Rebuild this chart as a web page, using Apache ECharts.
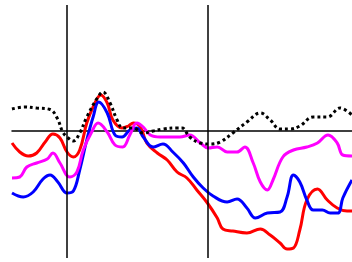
<!DOCTYPE html>
<html>
<head>
<meta charset="utf-8">
<script src="https://cdn.jsdelivr.net/npm/echarts@6/dist/echarts.min.js"></script>
<style>
  html, body { margin: 0; padding: 0; background: #fff; }
  #chart { width: 352px; height: 262px; }
</style>
</head>
<body>
<div id="chart"></div>
<script>
// [time (ms), amplitude]
const blackDotted = [[-78,2.2],[-60,2.4],[-43,2.3],[-24,2.15],[-14,1.3],[-6,-0.1],[0,-0.6],[9,-1.0],[18,-0.2],[28,1.4],[43,3.3],[51,3.9],[61,2.8],[71,1.1],[79,0.3],[94,0.3],[108,-0.2],[122,0],[136,0.2],[156,0.3],[163,0.3],[174,-0.6],[189,-1.2],[203,-1.3],[217,-1.1],[235,-0.2],[255,0.9],[274,1.8],[288,1.1],[302,0.2],[316,0.2],[330,0.5],[349,1.4],[369,1.4],[387,2.3],[404,1.6]]
const redLine = [[-78,-1.2],[-67,-2.1],[-55,-2.5],[-43,-2.2],[-31,-1.1],[-20,-0.3],[-10,-0.7],[0,-2.1],[9,-2.6],[18,-1.9],[28,0.8],[37,2.4],[48,3.6],[57,2.8],[65,1.1],[78,0.3],[87,0.5],[94,0.8],[104,0.4],[113,-1.2],[128,-2.2],[142,-2.9],[156,-4.1],[170,-4.7],[184,-5.9],[199,-7.2],[213,-8.7],[221,-9.8],[235,-10.0],[255,-10.2],[274,-9.8],[288,-10.4],[302,-11.2],[312,-11.8],[321,-11.7],[330,-9.9],[340,-6.9],[355,-5.8],[369,-6.9],[383,-7.7],[397,-8.0],[404,-8.0]]
const blueLine = [[-78,-6.2],[-62,-6.6],[-48,-6.1],[-34,-4.8],[-24,-4.4],[-13,-5.1],[0,-6.2],[9,-6.0],[18,-3.9],[28,-0.9],[37,1.4],[45,2.9],[57,1.8],[68,-0.4],[78,-0.6],[89,0.1],[99,0.3],[108,-0.6],[122,-1.6],[136,-1.3],[150,-2.1],[165,-3.2],[179,-4.6],[193,-5.7],[207,-6.5],[227,-7.1],[241,-6.8],[255,-7.7],[267,-8.7],[284,-8.2],[302,-8.1],[312,-6.6],[321,-4.4],[330,-5.1],[340,-6.9],[349,-7.9],[362,-7.9],[373,-8.2],[384,-8.2],[391,-6.7],[404,-4.9]]
const magentaLine = [[-78,-4.7],[-67,-4.6],[-57,-3.6],[-43,-3.2],[-28,-2.8],[-20,-2.2],[-10,-3.2],[4,-4.6],[14,-4.1],[23,-1.9],[35,-0.1],[44,0.8],[57,-0.1],[68,-1.4],[79,-1.6],[89,-0.4],[99,0.8],[108,0.4],[118,-0.4],[132,-0.6],[146,-0.6],[160,-0.6],[174,-0.4],[189,-1.2],[200,-1.7],[213,-1.6],[227,-2.1],[241,-2.1],[252,-1.6],[264,-3.2],[274,-5.1],[284,-5.9],[292,-4.9],[306,-2.6],[321,-1.9],[340,-1.6],[355,-1.2],[370,-0.4],[383,-1.2],[391,-2.4],[404,-2.5]]
// vertical marker lines (ms)
const markerTimes = [0, 200]

const chart = echarts.init(document.getElementById('chart'))

// shared line config
const lineSeries = (data, color, type) => ({
  type: 'line',
  data: data,
  smooth: 0.4,
  symbol: 'none',
  lineStyle: { color: color, width: 3, type: type || 'solid' },
  z: 3
})

const option = {
  animation: false,
  grid: { left: 12, right: 0, top: 5, bottom: 4 },
  xAxis: {
    type: 'value',
    min: -78,
    max: 404,
    axisLine: { onZero: true, lineStyle: { color: '#000', width: 1.5 } },
    axisTick: { show: false },
    axisLabel: { show: false },
    splitLine: { show: false }
  },
  yAxis: {
    type: 'value',
    min: -12.7,
    max: 12.6,
    axisLine: { show: false },
    axisTick: { show: false },
    axisLabel: { show: false },
    splitLine: { show: false }
  },
  // drawn in this order, black dotted on top
  series: [
    Object.assign(lineSeries(redLine, '#ff0000'), {
      markLine: {
        silent: true,
        symbol: 'none',
        label: { show: false },
        lineStyle: { color: '#000', width: 1.5, type: 'solid' },
        data: markerTimes.map(t => ({ xAxis: t }))
      }
    }),
    lineSeries(blueLine, '#0000ff'),
    lineSeries(magentaLine, '#ff00ff'),
    lineSeries(blackDotted, '#000', 'dotted')
  ]
}

chart.setOption(option)
</script>
</body>
</html>
